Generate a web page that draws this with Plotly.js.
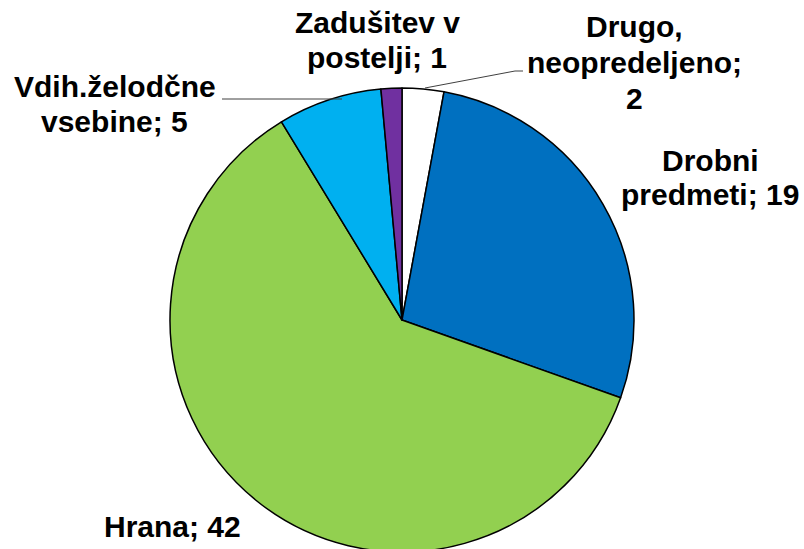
<!DOCTYPE html>
<html>
<head>
<meta charset="utf-8">
<script src="https://cdn.plot.ly/plotly-3.0.1.min.js"></script>
<style>
html, body { margin: 0; padding: 0; overflow: hidden; background: #fff; }
#chart { width: 804px; height: 552px; }
</style>
</head>
<body>
<div id="chart"></div>
<script>
// Data
const categories = ["Drugo, neopredeljeno", "Drobni predmeti", "Hrana", "Vdih.želodčne vsebine", "Zadušitev v postelji"];
const values = [2, 19, 42, 5, 1];
const colors = ["#FFFFFF", "#0070C0", "#92D050", "#00B0F0", "#7030A0"];
// Label lines as displayed (text lines per category)
const labelLines = [
  ["Drugo,", "neopredeljeno;", "2"],
  ["Drobni", "predmeti; 19"],
  ["Hrana; 42"],
  ["Vdih.želodčne", "vsebine; 5"],
  ["Zadušitev v", "postelji; 1"]
];

const W = 804, H = 552;
const px = x => x / W;
const py = y => 1 - y / H;

// label layout: centre x, baseline y of first line, line spacing (pixels)
const labelPos = [
  {x: 634, y: 37, dy: 36},
  {x: 710, y: 171, dy: 34},
  {x: 172, y: 537, dy: 34},
  {x: 115, y: 97, dy: 35},
  {x: 377, y: 33, dy: 35}
];
const FS = 30;

const annotations = [];
labelLines.forEach((lines, i) => {
  const p = labelPos[i];
  lines.forEach((t, j) => {
    const base = p.y + j * p.dy;
    annotations.push({
      xref: 'paper', yref: 'paper',
      x: px(p.x), y: py(base - 10.5),
      xanchor: 'center', yanchor: 'middle',
      text: t, showarrow: false,
      font: {family: 'Liberation Sans, Arial, sans-serif', size: FS, color: '#000', weight: 'bold'}
    });
  });
});

const shapes = [
  {type: 'path', xref: 'paper', yref: 'paper',
   path: `M ${px(425)} ${py(88)} L ${px(515)} ${py(71)} L ${px(523)} ${py(71)}`,
   line: {color: '#404040', width: 1}},
  {type: 'path', xref: 'paper', yref: 'paper',
   path: `M ${px(222)} ${py(99)} L ${px(342)} ${py(99)}`,
   line: {color: '#404040', width: 1}}
];

const trace = {
  type: 'pie',
  labels: categories,
  values: values,
  sort: false,
  direction: 'clockwise',
  rotation: 0,
  textinfo: 'none',
  hoverinfo: 'label+value',
  marker: {colors: colors, line: {color: '#000', width: 1.5}},
  domain: {x: [170 / W, 634 / W], y: [0, 464 / H]},
  showlegend: false
};

Plotly.newPlot('chart', [trace], {
  width: W, height: H,
  margin: {l: 0, r: 0, t: 0, b: 0},
  paper_bgcolor: '#fff',
  showlegend: false,
  annotations: annotations,
  shapes: shapes
}, {staticPlot: true});
</script>
</body>
</html>
